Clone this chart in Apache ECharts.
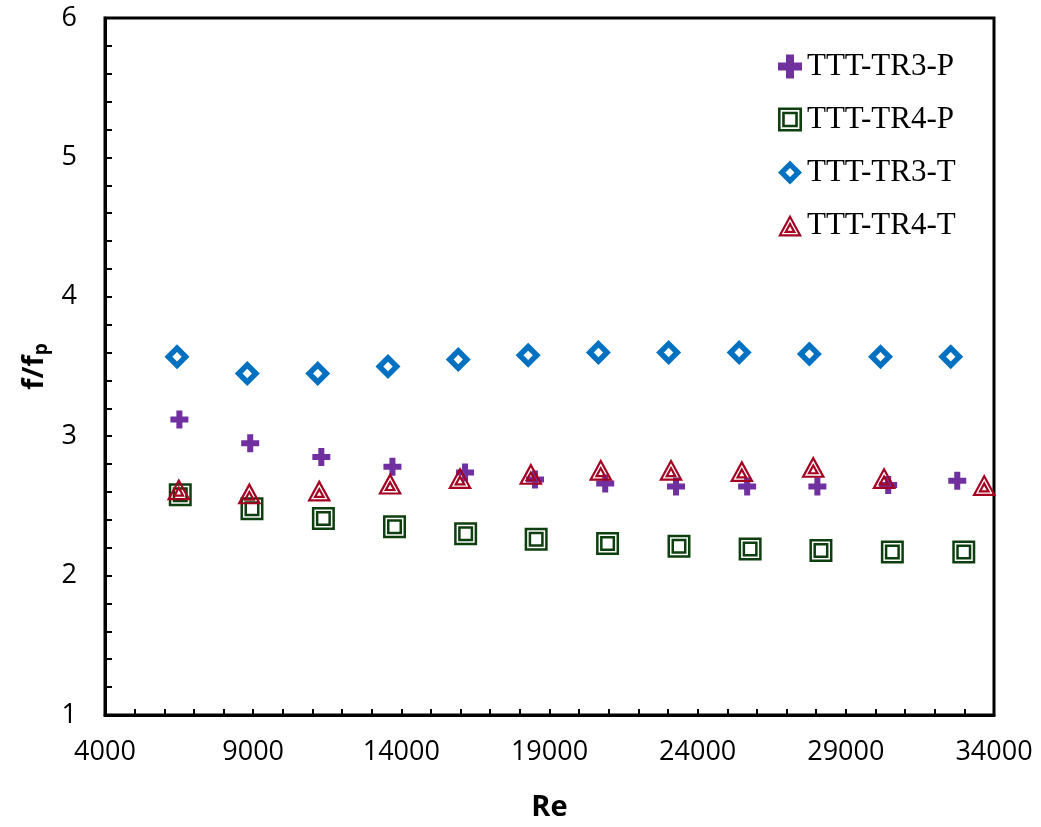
<!DOCTYPE html>
<html>
<head>
<meta charset="utf-8">
<script src="https://cdn.jsdelivr.net/npm/echarts@6/dist/echarts.min.js"></script>
<style>
html,body{margin:0;padding:0;background:#fff;}
#chart{width:1041px;height:827px;}
</style>
</head>
<body>
<div id="chart"></div>
<script>
// Data
var seriesNames = ['TTT-TR3-P', 'TTT-TR4-P', 'TTT-TR3-T', 'TTT-TR4-T'];

var reTR3P = [6510, 8900, 11300, 13700, 16150, 18510, 20880, 23270, 25670, 28040, 30430, 32760];
var fTR3P  = [3.12, 2.95, 2.85, 2.78, 2.74, 2.69, 2.66, 2.64, 2.64, 2.64, 2.65, 2.68];

var reTR4P = [6540, 8960, 11370, 13770, 16170, 18550, 20960, 23370, 25770, 28160, 30570, 32980];
var fTR4P  = [2.58, 2.48, 2.41, 2.35, 2.30, 2.26, 2.23, 2.21, 2.19, 2.18, 2.17, 2.17];

var reTR3T = [6430, 8800, 11180, 13550, 15920, 18280, 20650, 23020, 25400, 27770, 30170, 32540];
var fTR3T  = [3.57, 3.45, 3.45, 3.50, 3.55, 3.58, 3.60, 3.60, 3.60, 3.59, 3.57, 3.57];

var reTR4T = [6490, 8870, 11230, 13620, 15980, 18370, 20730, 23100, 25490, 27900, 30290, 33670];
var fTR4T  = [2.62, 2.59, 2.61, 2.66, 2.70, 2.73, 2.76, 2.76, 2.75, 2.78, 2.70, 2.65];

var xTicks = [4000, 9000, 14000, 19000, 24000, 29000, 34000];
var yTicks = [1, 2, 3, 4, 5, 6];

function pairs(xs, ys) { return xs.map(function (x, i) { return [x, ys[i]]; }); }

var FONT = '"Open Sans", "Liberation Sans", sans-serif';
var SERIF = '"Liberation Serif", "DejaVu Serif", serif';

// filled shapes; holes are drawn with opposite winding
var crossPath = 'path://M6,0H12V6H18V12H12V18H6V12H0V6H6Z';
var squarePath = 'path://M0,0H23V23H0Z M2.5,2.5V20.5H20.5V2.5Z M4,4H19V19H4Z M6.5,6.5V16.5H16.5V6.5Z';
var diamondPath = 'path://M12,0L24,12L12,24L0,12Z M12,7.5L7.5,12L12,16.5L16.5,12Z';
var triPath = 'path://M12,0L24,22L0,22Z M12,4.6L3.71,19.8L20.29,19.8Z M12,7.31L18.11,18.5L5.89,18.5Z M12,11.9L9.6,16.3L14.4,16.3Z';

var chart = echarts.init(document.getElementById('chart'));
chart.setOption({
  animation: false,
  backgroundColor: '#fff',
  grid: {
    left: 105, right: 47, top: 18, bottom: 112,
    show: true, borderColor: '#000', borderWidth: 3, backgroundColor: 'transparent'
  },
  xAxis: {
    type: 'value', min: xTicks[0], max: xTicks[xTicks.length - 1], interval: 5000,
    name: 'Re', nameLocation: 'middle', nameGap: 78,
    nameTextStyle: { fontFamily: FONT, fontSize: 29, fontWeight: 'bold', color: '#000' },
    axisLine: { show: true, lineStyle: { color: '#000', width: 3 } },
    axisTick: { show: true, inside: true, length: 6, lineStyle: { color: '#000', width: 2 } },
    minorTick: { show: true, splitNumber: 5, length: 6, lineStyle: { color: '#000', width: 2 } },
    splitLine: { show: false },
    axisLabel: { fontFamily: FONT, fontSize: 27, color: '#000', margin: 24,
      formatter: function (v) { return String(v); } }
  },
  yAxis: {
    type: 'value', min: yTicks[0], max: yTicks[yTicks.length - 1], interval: 1,
    name: '{a|f/f}{b|p}', nameLocation: 'middle', nameGap: 53, nameRotate: 90,
    nameTextStyle: {
      color: '#000',
      rich: {
        a: { fontFamily: FONT, fontSize: 29, fontWeight: 'bold', color: '#000' },
        b: { fontFamily: FONT, fontSize: 19, fontWeight: 'bold', color: '#000', verticalAlign: 'bottom', padding: [12, 0, 0, 0] }
      }
    },
    axisLine: { show: true, lineStyle: { color: '#000', width: 3 } },
    axisTick: { show: true, inside: true, length: 7, lineStyle: { color: '#000', width: 2 } },
    minorTick: { show: true, splitNumber: 5, length: 7, lineStyle: { color: '#000', width: 2 } },
    splitLine: { show: false },
    axisLabel: { fontFamily: FONT, fontSize: 27, color: '#000', margin: 28 }
  },
  legend: {
    orient: 'vertical', left: 773, top: 46, itemGap: 22, itemWidth: 24, itemHeight: 24,
    padding: 5,
    textStyle: { fontFamily: SERIF, fontSize: 31, color: '#000', lineHeight: 31 },
    data: seriesNames
  },
  series: [
    {
      name: seriesNames[0], type: 'scatter', data: pairs(reTR3P, fTR3P),
      symbol: crossPath, symbolSize: 18, z: 2,
      itemStyle: { color: '#7030A0', borderWidth: 0, opacity: 1 }
    },
    {
      name: seriesNames[1], type: 'scatter', data: pairs(reTR4P, fTR4P),
      symbol: squarePath, symbolSize: 23, z: 3,
      itemStyle: { color: '#0E3F0E', borderWidth: 0, opacity: 1 }
    },
    {
      name: seriesNames[2], type: 'scatter', data: pairs(reTR3T, fTR3T),
      symbol: diamondPath, symbolSize: 25, z: 4,
      itemStyle: { color: '#0070C0', borderWidth: 0, opacity: 1 }
    },
    {
      name: seriesNames[3], type: 'scatter', data: pairs(reTR4T, fTR4T),
      symbol: triPath, symbolSize: [24, 22], z: 5,
      itemStyle: { color: '#A50021', borderWidth: 0, opacity: 1 }
    }
  ]
});
</script>
</body>
</html>
